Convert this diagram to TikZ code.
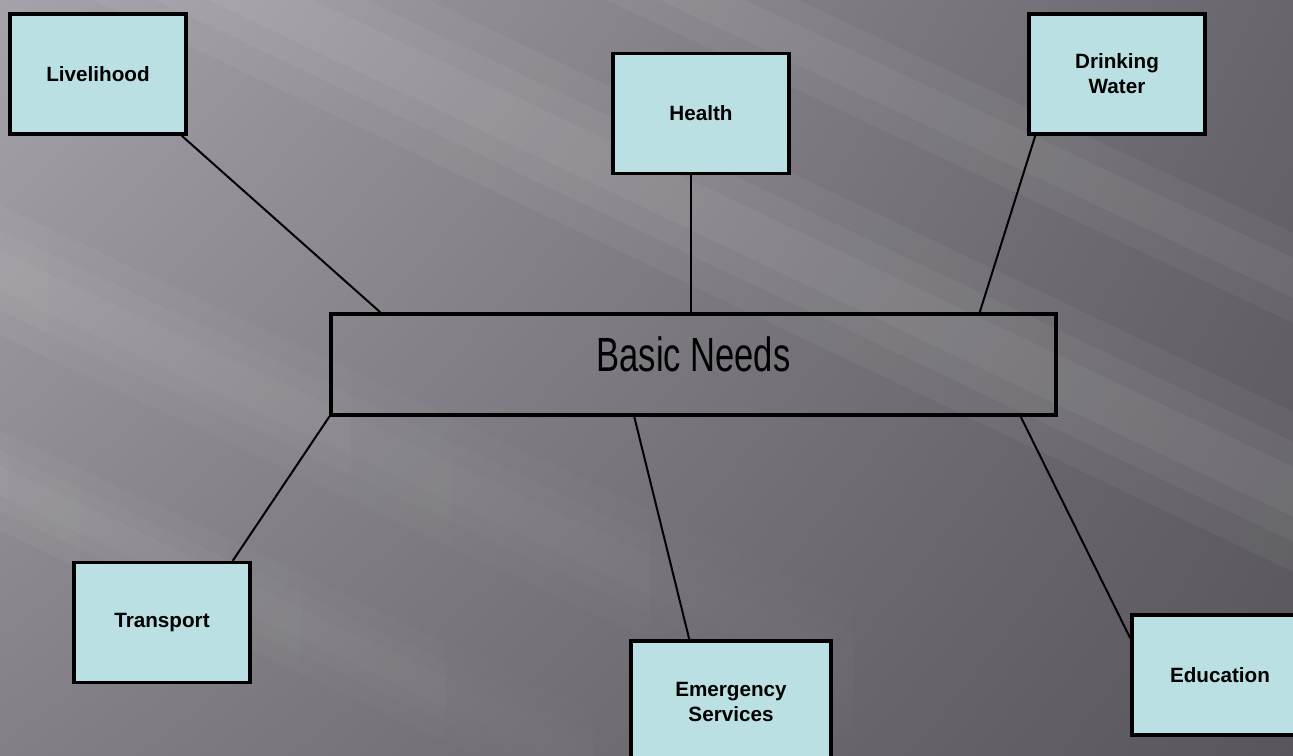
\documentclass[tikz,border=0pt]{standalone}
\usepackage{fontspec}
\setmainfont{Liberation Sans}
\usepackage{graphicx}
\usepackage{tikz}
\usetikzlibrary{positioning,calc,shadings,fadings}
\definecolor{needfill}{RGB}{186,224,228}
\definecolor{bgul}{RGB}{166,162,170}
\definecolor{bgll}{RGB}{130,128,134}
\definecolor{bgur}{RGB}{104,102,108}
\definecolor{bglr}{RGB}{88,86,92}
\tikzset{need/.style={draw=black,line width=2.6pt,fill=needfill,minimum width=132pt,minimum height=90pt,align=center,inner sep=2pt,font=\bfseries\fontsize{15.5}{18.75}\selectfont}}
\tikzset{hub/.style={draw=black,line width=2.6pt,minimum width=543.75pt,minimum height=75.75pt,text depth=15pt,inner sep=0pt,font=\fontsize{36}{40}\selectfont}}
\tikzset{link/.style={draw=black,line width=1.5pt}}
\tikzset{streak/.style={fill=white,opacity=0.045}}

\begin{document}
\begin{tikzpicture}[x=0.75pt,y=-0.75pt]
  \useasboundingbox (0,0) rectangle (1293,756);
  \clip (0,0) rectangle (1293,756);
  % background
  \shade[upper left=bgul,upper right=bgur,lower left=bgll,lower right=bglr] (0,0) rectangle (1293,756);
  \foreach \w in {25,50,80}
    \fill[streak] (-300,-267-\w) -- (-300,-267+\w) -- (1600,638+\w) -- (1600,638-\w) -- cycle;
  \foreach \w in {20,40,65}
    \fill[streak,path fading=east] (-100,223-\w) -- (-100,223+\w) -- (1000,738+\w) -- (1000,738-\w) -- cycle;
  \foreach \w in {15,30,50}
    \fill[streak,path fading=east] (-100,433-\w) -- (-100,433+\w) -- (700,813+\w) -- (700,813-\w) -- cycle;
  \foreach \w in {20,45}
    \fill[streak] (500,-95-\w) -- (500,-95+\w) -- (1500,375+\w) -- (1500,375-\w) -- cycle;

  \node[hub] (basic) at (693.5,364.5) {\scalebox{0.72}[1]{Basic Needs}};
  \node[need] (live) at (98,74) {Livelihood};
  \node[need] (health) at (701,113.5) {Health};
  \node[need] (drink) at (1117,74) {Drinking\\Water};
  \node[need] (trans) at (162,622.5) {Transport};
  \node[need,minimum width=150pt,minimum height=91.5pt] (emerg) at (731,702) {Emergency\\Services};
  \node[need] (educ) at (1220,675) {Education};

  \draw[link] ($(live.south east)+(-6,0)$) -- ($(basic.north west)+(51,0)$);
  \draw[link] ($(health.south)+(-10,0)$) -- ($(basic.north)+(-2.5,0)$);
  \draw[link] ($(drink.south west)+(8,0)$) -- ($(basic.north east)+(-78,0)$);
  \draw[link] (basic.south west) -- ($(trans.north east)+(-19,0)$);
  \draw[link] ($(basic.south west)+(305,0)$) -- ($(emerg.north west)+(60,0)$);
  \draw[link] ($(basic.south east)+(-37,0)$) -- ($(educ.north west)+(0,25)$);
\end{tikzpicture}
\end{document}
